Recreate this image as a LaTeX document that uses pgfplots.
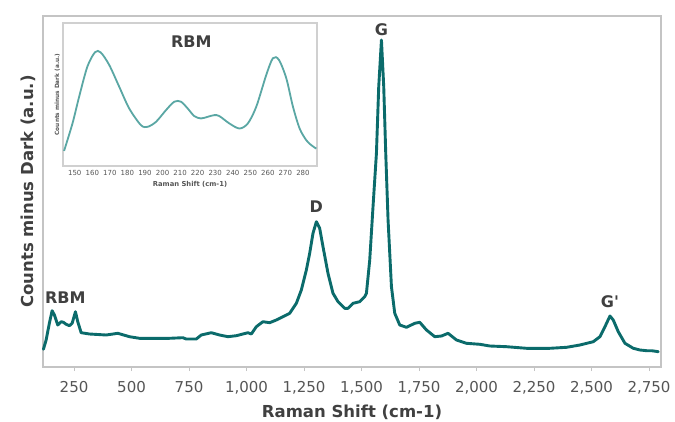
\documentclass[border=0pt]{standalone}
\usepackage{fontspec}
\setmainfont{DejaVu Sans}
\newfontfamily\rawfont{DejaVu Sans}
\usepackage{pgfplots}
\pgfplotsset{compat=1.18}
\usepackage{pgfplotstable}

\definecolor{spec}{HTML}{0B6B6B}
\definecolor{rbmline}{HTML}{5AA7A4}
\definecolor{frame}{HTML}{C4C4C4}
\definecolor{lbl}{HTML}{404040}
\definecolor{tcol}{HTML}{555555}

% Raman spectrum (x in cm-1, y in arbitrary units)
\pgfplotstableread{
x y
116.8 17.7
128.6 27
142.9 44
154.7 56.3
164.7 52
179.1 42
193.9 45.3
203.9 44.7
215.6 42.7
230.0 41.3
241.7 43.7
256.1 55.3
266.1 45.3
280.9 34.3
317.0 33
389.7 32
440.2 33.7
491.1 30.3
534.6 28.7
578.1 28.7
665.2 28.7
723.0 29.3
737.9 28
781.4 28
803.1 32
846.7 34.3
882.8 32
918.9 30.3
955.5 31.3
1006.0 34.3
1020.8 33
1042.5 40.3
1071.3 45.3
1100.4 44.3
1129.5 47
1158.3 50.3
1187.4 53.7
1216.5 63.7
1238.3 77
1260.1 97
1274.5 113.7
1288.9 133.7
1303.6 145.3
1318.0 138.7
1332.4 120.3
1354.1 93.7
1375.9 73.7
1397.7 65.3
1426.8 58.7
1441.2 58.7
1462.9 63.7
1492.1 65.3
1513.8 70.3
1521.2 73.7
1535.6 107
1549.9 160.3
1564.7 213.7
1574.7 280.3
1586.5 327
1596.5 280.3
1605.2 213.7
1615.3 147
1630.0 80.3
1644.4 53.7
1666.1 42
1695.3 39.7
1731.4 43.7
1753.1 44.7
1782.3 37
1818.4 30.3
1847.6 31
1876.3 33.7
1912.8 27
1956.3 23.7
2014.3 22.7
2057.8 21
2130.5 20.3
2217.5 18.7
2318.9 18.7
2391.6 19.7
2449.5 22
2507.4 25.3
2536.5 30.3
2558.3 40.3
2580.1 51
2594.4 47
2616.2 35.3
2645.3 23.7
2681.4 18.7
2710.6 17
2739.8 16.3
2761.4 16.3
2790.2 15.3
}\spectrum

% RBM region (inset)
\pgfplotstableread{
x y
143.9 48
148.7 130
152.5 210
157.2 300
161.6 343
164.8 342
169.6 305
175.3 240
181.0 175
187.7 125
191.5 120
196.3 135
202.0 170
206.7 195
210.5 195
214.3 175
218.1 152
221.9 145
225.8 150
229.6 155
232.4 152
238.1 130
243.8 115
248.6 130
253.4 180
259.1 275
262.9 325
266.3 320
270.5 265
274.3 180
278.1 115
281.9 80
284.8 65
287.6 55
}\rbm

\begin{document}
\begin{tikzpicture}
\path[use as bounding box] (-43pt,-54pt) rectangle (632pt,367pt);

\begin{axis}[
  name=main,
  at={(0pt,0pt)}, anchor=south west,
  scale only axis,
  width=618pt, height=351pt,
  xmin=115, xmax=2802,
  ymin=0, ymax=351,
  axis line style={draw=frame, line width=1.2pt},
  xtick={250,500,...,2750},
  ytick=\empty,
  tick style={draw=frame, line width=0.8pt},
  major tick length=4pt,
  tick align=outside,
  xtick pos=bottom,
  /pgf/number format/1000 sep={,},
  /pgf/number format/assume math mode=true,
  xticklabel style={font=\fontsize{15}{15}\selectfont, text=tcol, yshift=-7pt},
  xlabel={Raman Shift (cm-1)},
  ylabel={Counts minus Dark (a.u.)},
  xlabel style={font=\bfseries\fontsize{16.5}{16.5}\selectfont, text=lbl,
    at={(axis description cs:0.5,-0.128)}, anchor=center},
  ylabel style={font=\bfseries\fontsize{16.5}{16.5}\selectfont, text=lbl,
    at={(axis description cs:-0.0243,0.5)}, anchor=center},
  clip=false,
]
  \addplot[spec, line width=2.9pt, line join=round, line cap=round] table[x=x,y=y] {\spectrum};
  \node[font=\bfseries\fontsize{16}{16}\selectfont, text=lbl] at (axis cs:1587,337) {G};
  \node[font=\bfseries\fontsize{16}{16}\selectfont, text=lbl] at (axis cs:1303,160) {D};
  \node[font=\bfseries\fontsize{16}{16}\selectfont, text=lbl] at (axis cs:212,69) {RBM};
  \node[font=\rawfont\bfseries\fontsize{16}{16}\selectfont, text=lbl] at (axis cs:2580,65) {G'};
\end{axis}

\begin{axis}[
  at={(20pt,201pt)}, anchor=south west,
  scale only axis,
  width=254pt, height=143pt,
  xmin=143.3, xmax=288,
  ymin=3, ymax=430,
  axis background/.style={fill=white},
  axis line style={draw=frame!80, line width=1.6pt},
  xtick={150,160,...,280},
  ytick=\empty,
  major tick length=0pt,
  /pgf/number format/assume math mode=true,
  xticklabel style={font=\fontsize{7}{7}\selectfont, text=tcol, yshift=-1pt},
  xlabel={Raman Shift (cm-1)},
  ylabel={Counts minus Dark (a.u.)},
  xlabel style={font=\bfseries\fontsize{6.8}{6.8}\selectfont, text=tcol,
    at={(axis description cs:0.5,-0.126)}, anchor=center},
  ylabel style={font=\bfseries\fontsize{5.8}{5.8}\selectfont, text=tcol,
    at={(axis description cs:-0.022,0.5)}, anchor=center},
  clip=false,
]
  \addplot[rbmline, line width=1.8pt, smooth] table[x=x,y=y] {\rbm};
  \node[font=\bfseries\fontsize{16}{16}\selectfont, text=lbl] at (axis cs:216.4,374) {RBM};
\end{axis}
\end{tikzpicture}
\end{document}
